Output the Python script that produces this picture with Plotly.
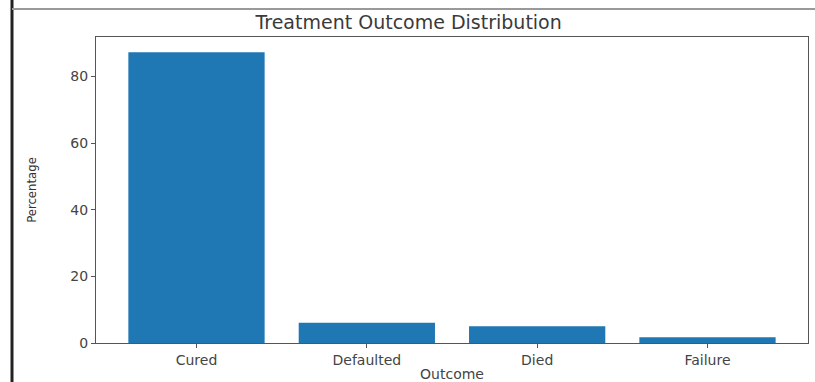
import plotly.graph_objects as go

outcomes = ["Cured", "Defaulted", "Died", "Failure"]
percentages = [87.2, 6.1, 5.0, 1.7]

W, H = 815, 382
L, R, T, B = 96, 7, 37, 39
pw, ph = W - L - R, H - T - B

def px(x):
    return (x - L) / pw

def py(y):
    return (H - B - y) / ph

fig = go.Figure(go.Bar(
    x=outcomes, y=percentages, marker_color="#1f77b4", width=0.8,
    marker_line_width=0,
))

axis_common = dict(
    showline=True, linecolor="#555555", linewidth=1, mirror=True, automargin=False,
    ticks="outside", ticklen=4, tickcolor="#555555", showgrid=False, zeroline=False,
    tickfont=dict(family="DejaVu Sans", size=14, color="#444444"),
)

fig.update_layout(
    width=W, height=H, margin=dict(l=L, r=R, t=T, b=B),
    paper_bgcolor="white", plot_bgcolor="white",
    title=dict(text="Treatment Outcome Distribution", x=px(453), xanchor="center",
               y=1 - 22 / H, yanchor="middle",
               font=dict(family="DejaVu Sans", size=19, color="#3a3a3a")),
    xaxis=dict(range=[-0.59, 3.59], title=dict(text="Outcome", standoff=2,
               font=dict(family="DejaVu Sans", size=14, color="#444444")), **axis_common),
    yaxis=dict(range=[0, 91.8], tickvals=[0, 20, 40, 60, 80],
               title=dict(text="Percentage", standoff=30,
                          font=dict(family="Liberation Sans Narrow, DejaVu Sans Condensed", size=13, color="#333333")),
               **axis_common),
    showlegend=False,
    shapes=[
        dict(type="line", xref="paper", yref="paper", x0=px(12), x1=px(12), y0=py(0), y1=py(382),
             line=dict(color="#222222", width=3)),
        dict(type="line", xref="paper", yref="paper", x0=px(12), x1=px(815), y0=py(9), y1=py(9),
             line=dict(color="#999999", width=2)),
    ],
)

fig.write_html("out.html")
